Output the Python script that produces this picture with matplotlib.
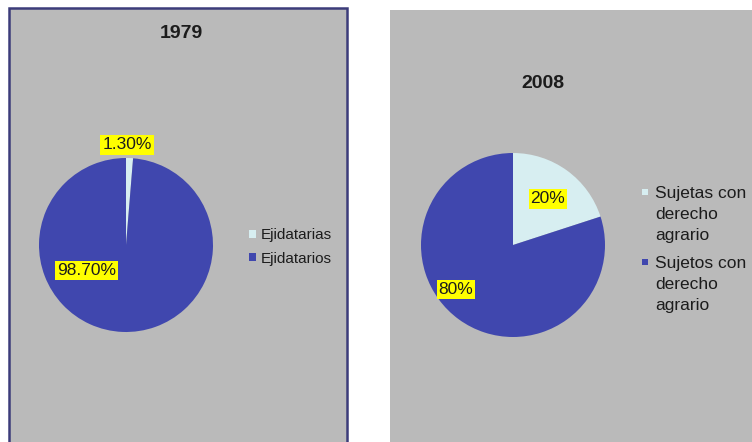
import matplotlib
matplotlib.use("Agg")
import matplotlib.pyplot as plt
from matplotlib.patches import Rectangle

plt.rcParams['font.family'] = ['Liberation Sans', 'DejaVu Sans']

# colours
c_bg = "#bababa"     # panel background
c_border = "#3c3c7a"
c_blue = "#4047ae"
c_light = "#d7eef1"
c_box = "#ffff00"
c_text = "#1c1c1c"

years = ["1979", "2008"]
labels_1979 = ["Ejidatarias", "Ejidatarios"]
values_1979 = [1.30, 98.70]
labels_2008 = ["Sujetas con\nderecho\nagrario", "Sujetos con\nderecho\nagrario"]
values_2008 = [20, 80]

W, H = 752, 442
fig = plt.figure(figsize=(W / 100, H / 100), dpi=100)
fig.patch.set_facecolor("white")


def fx(px):
    return px / W


def fy(py):
    return 1 - py / H


# grey panels behind each chart
fig.add_artist(Rectangle((fx(9), fy(452)), fx(338), (452 - 8) / H,
                         transform=fig.transFigure, facecolor=c_bg,
                         edgecolor=c_border, linewidth=1.8, zorder=-1))
fig.add_artist(Rectangle((fx(390), fy(452)), fx(400), (452 - 10) / H,
                         transform=fig.transFigure, facecolor=c_bg,
                         edgecolor="none", zorder=-1))


def draw_pie(cx, cy, r, values, fmt, label_pos):
    ax = fig.add_axes([fx(cx - r), fy(cy + r), fx(2 * r), 2 * r / H])
    wedges, _ = ax.pie(values, colors=[c_light, c_blue], startangle=90,
                       counterclock=False, radius=1,
                       wedgeprops=dict(linewidth=0))
    ax.set_xlim(-1, 1)
    ax.set_ylim(-1, 1)
    ax.set_aspect("equal")
    ax.axis("off")
    for v, (x, y) in zip(values, label_pos):
        ax.text(x, y, fmt.format(v), ha="center", va="center", fontsize=12.5,
                color=c_text, clip_on=False,
                bbox=dict(boxstyle="square,pad=0.12", facecolor=c_box,
                          edgecolor="none"))
    return wedges


w1 = draw_pie(126, 245, 87, values_1979, "{:.2f}%", [(0.01, 1.15), (-0.45, -0.29)])
w2 = draw_pie(513, 245, 92, values_2008, "{:.0f}%", [(0.38, 0.5), (-0.62, -0.48)])

fig.text(fx(181), fy(34), years[0], ha="center", va="center",
         fontsize=14, fontweight="bold", color=c_text)
fig.text(fx(543), fy(84), years[1], ha="center", va="center",
         fontsize=14, fontweight="bold", color=c_text)

fig.legend(w1, labels_1979, loc="center left",
           bbox_to_anchor=(fx(249), fy(247)), frameon=False,
           fontsize=11, handlelength=0.45, handleheight=0.45,
           handletextpad=0.3, labelspacing=0.6, labelcolor=c_text,
           borderpad=0, borderaxespad=0)

# 2008 legend: marker beside the first line of each wrapped label
for i, (w, lab) in enumerate(zip(w2, labels_2008)):
    top = 186 + i * 70
    fig.add_artist(Rectangle((fx(642), fy(top + 9)), fx(6), 6 / H,
                             transform=fig.transFigure,
                             facecolor=w.get_facecolor(), edgecolor="none"))
    fig.text(fx(655), fy(top), lab, ha="left", va="top", fontsize=12.5,
             color=c_text, linespacing=1.5)

fig.savefig("out.png", dpi=100, facecolor="white")
